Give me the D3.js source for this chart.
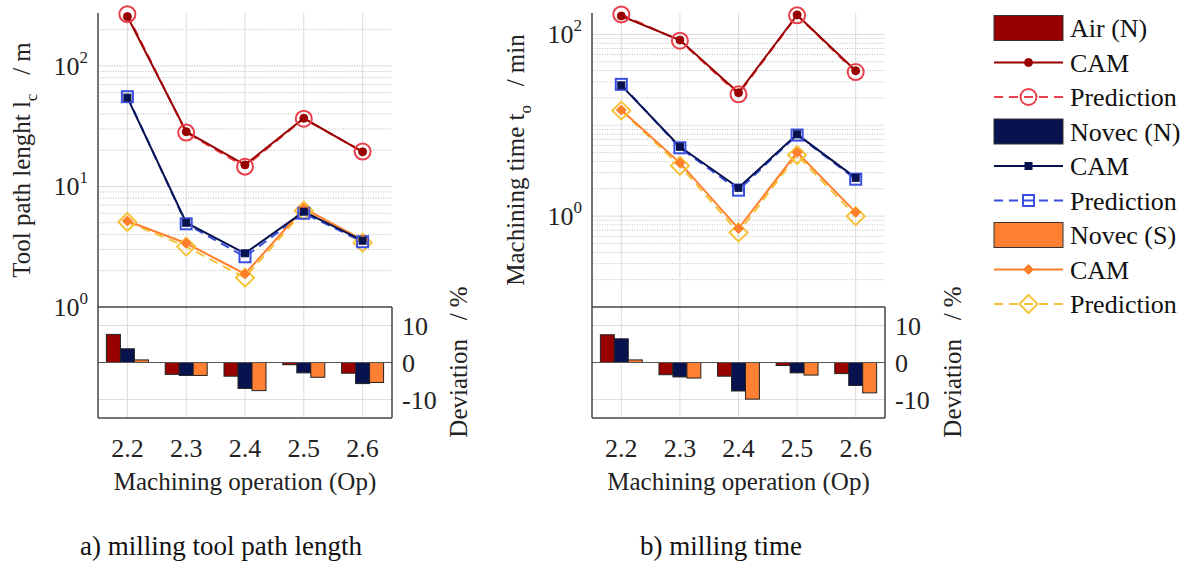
<!DOCTYPE html>
<html>
<head>
<meta charset="utf-8">
<script src="https://cdn.jsdelivr.net/npm/d3@7"></script>
<style>
  html, body, svg, text, tspan, div { font-family: 'Liberation Serif' !important; }
</style>
</head>
<body style="margin:0;background:#fff">
<svg id="chart" width="1184" height="563"></svg>
<script>
// machining operations (x values)
const ops = [2.2, 2.3, 2.4, 2.5, 2.6];
const opLabels = ["2.2", "2.3", "2.4", "2.5", "2.6"];

// a) tool path length / m
const lenAirCam   = [257, 28.5, 15.1, 36.8, 19.4];
const lenAirPred  = [269, 28.0, 14.6, 36.5, 19.5];
const lenNNCam    = [54.6, 5.0, 2.79, 6.18, 3.55];
const lenNNPred   = [55.6, 4.9, 2.61, 6.0, 3.48];
const lenNSCam    = [5.17, 3.38, 1.88, 6.59, 3.6];
const lenNSPred   = [5.07, 3.17, 1.75, 6.3, 3.42];
const lenDevAir   = [7.6, -3.2, -3.7, -0.6, -2.9];
const lenDevNN    = [3.7, -3.5, -7.0, -2.8, -5.7];
const lenDevNS    = [0.7, -3.5, -7.6, -4.0, -5.4];

// b) machining time / min
const timeAirCam  = [159.5, 86.8, 22.8, 163.6, 39.8];
const timeAirPred = [166, 85.3, 21.9, 162, 38.5];
const timeNNCam   = [27.5, 5.8, 2.05, 7.94, 2.64];
const timeNNPred  = [28.2, 5.65, 1.93, 7.8, 2.55];
const timeNSCam   = [14.7, 3.86, 0.73, 5.03, 1.1];
const timeNSPred  = [14.5, 3.58, 0.66, 4.7, 1.0];
const timeDevAir  = [7.5, -3.3, -3.7, -0.8, -3.0];
const timeDevNN   = [6.4, -3.9, -7.7, -2.8, -6.2];
const timeDevNS   = [0.7, -4.2, -9.9, -3.4, -8.2];

const devTicks = [10, 0, -10];

const col = {
    air: "#990000", airPred: "#e8404a",
    nn: "#07124f", nnPred: "#3a4fe0",
    ns: "#ff8033", nsLine: "#ff7f2a", nsPred: "#f5c33b"
};

const svg = d3.select("#chart").style("font-family", "'Liberation Serif'", "important");

function txt(g){
    return g.append("text").style("font-family", "'Liberation Serif'", "important").attr("fill", "#222");
}

function diamond(s){ return `M0,${-s}L${s},0L0,${s}L${-s},0Z`; }

function drawMarker(g, type, x, y, color, open){
    if(type === "circle"){
        g.append("circle").attr("cx", x).attr("cy", y).attr("r", open ? 8 : 4)
            .attr("fill", open ? "none" : color).attr("stroke", color).attr("stroke-width", open ? 2 : 1);
    } else if(type === "square"){
        const s = open ? 11 : 7;
        g.append("rect").attr("x", x - s/2).attr("y", y - s/2).attr("width", s).attr("height", s)
            .attr("fill", open ? "none" : color).attr("stroke", color).attr("stroke-width", open ? 2 : 1);
    } else {
        g.append("path").attr("transform", `translate(${x},${y})`).attr("d", diamond(open ? 9 : 5))
            .attr("fill", open ? "none" : color).attr("stroke", color).attr("stroke-width", open ? 2 : 1);
    }
}

function drawPanel(cfg){
    const g = svg.append("g");
    const x = d3.scaleLinear().domain([2.15, 2.65]).range([cfg.left, cfg.right]);
    const y = d3.scaleLog().domain(cfg.yDomain).range([cfg.mid, cfg.top]);
    const yd = d3.scaleLinear().domain([-15, 15]).range([cfg.bottom, cfg.mid]);

    // log grid: minor dotted, major solid
    const lo = Math.floor(Math.log10(cfg.yDomain[0])), hi = Math.ceil(Math.log10(cfg.yDomain[1]));
    for(let d = lo; d <= hi; d++){
        for(let k = 1; k <= 9; k++){
            const v = k * Math.pow(10, d);
            if(v <= cfg.yDomain[0] || v > cfg.yDomain[1]) continue;
            const major = cfg.yTicks.includes(v);
            g.append("line").attr("x1", cfg.left).attr("x2", cfg.right).attr("y1", y(v)).attr("y2", y(v))
                .attr("stroke", major ? "#dcdcdc" : "#bdbdbd").attr("stroke-width", 1)
                .attr("stroke-dasharray", major ? null : "1,1.5");
        }
    }
    // vertical grid, both plots
    ops.forEach(o => {
        g.append("line").attr("x1", x(o)).attr("x2", x(o)).attr("y1", cfg.top).attr("y2", cfg.bottom)
            .attr("stroke", "#dcdcdc").attr("stroke-width", 1);
    });
    // deviation grid
    [10, -10].forEach(v => {
        g.append("line").attr("x1", cfg.left).attr("x2", cfg.right).attr("y1", yd(v)).attr("y2", yd(v))
            .attr("stroke", "#dcdcdc").attr("stroke-width", 1);
    });

    // lines
    const line = d3.line().x((d, i) => x(ops[i])).y(d => y(d));
    const series = [
        {v: cfg.nsPred, c: col.nsPred, dash: "9,6", m: "diamond", open: true},
        {v: cfg.nnPred, c: col.nnPred, dash: "9,6", m: "square", open: true},
        {v: cfg.airPred, c: col.airPred, dash: "9,6", m: "circle", open: true},
        {v: cfg.nsCam, c: col.nsLine, dash: null, m: "diamond", open: false},
        {v: cfg.nnCam, c: col.nn, dash: null, m: "square", open: false},
        {v: cfg.airCam, c: col.air, dash: null, m: "circle", open: false}
    ];
    series.forEach(s => {
        g.append("path").attr("d", line(s.v)).attr("fill", "none").attr("stroke", s.c)
            .attr("stroke-width", 2).attr("stroke-dasharray", s.dash);
    });
    series.forEach(s => {
        s.v.forEach((v, i) => drawMarker(g, s.m, x(ops[i]), y(v), s.c, s.open));
    });

    // bars
    const bw = (x(2.3) - x(2.2)) * 0.238;
    const bars = [{v: cfg.devAir, c: col.air}, {v: cfg.devNN, c: col.nn}, {v: cfg.devNS, c: col.ns}];
    bars.forEach((b, j) => {
        b.v.forEach((v, i) => {
            g.append("rect").attr("x", x(ops[i]) + (j - 1.5) * bw).attr("width", bw)
                .attr("y", Math.min(yd(v), yd(0))).attr("height", Math.abs(yd(v) - yd(0)))
                .attr("fill", b.c).attr("stroke", "#222").attr("stroke-width", 1);
        });
    });
    g.append("line").attr("x1", cfg.left).attr("x2", cfg.right).attr("y1", yd(0)).attr("y2", yd(0))
        .attr("stroke", "#555").attr("stroke-width", 1);

    // axes lines
    const ax = "#444";
    g.append("line").attr("x1", cfg.left).attr("x2", cfg.left).attr("y1", cfg.top).attr("y2", cfg.bottom).attr("stroke", ax).attr("stroke-width", 1.5);
    g.append("line").attr("x1", cfg.left).attr("x2", cfg.right).attr("y1", cfg.mid).attr("y2", cfg.mid).attr("stroke", ax).attr("stroke-width", 1.5);
    g.append("line").attr("x1", cfg.left).attr("x2", cfg.right).attr("y1", cfg.bottom).attr("y2", cfg.bottom).attr("stroke", ax).attr("stroke-width", 1.5);
    g.append("line").attr("x1", cfg.right).attr("x2", cfg.right).attr("y1", cfg.mid).attr("y2", cfg.bottom).attr("stroke", ax).attr("stroke-width", 1.5);

    // log tick labels
    cfg.yTicks.forEach(v => {
        const t = txt(g).attr("x", cfg.left - 10).attr("y", y(v) + 9)
            .attr("text-anchor", "end").attr("font-size", 26);
        t.append("tspan").text("10");
        t.append("tspan").attr("dy", -12).attr("font-size", 17).text(Math.round(Math.log10(v)));
    });
    // deviation ticks (right side)
    devTicks.forEach(v => {
        txt(g).attr("x", cfg.right + 10).attr("y", yd(v) + 9)
            .attr("font-size", 26).text(v);
    });
    // x tick labels
    ops.forEach((o, i) => {
        txt(g).attr("x", x(o)).attr("y", 457).attr("text-anchor", "middle")
            .attr("font-size", 26).text(opLabels[i]);
    });
    txt(g).attr("x", (cfg.left + cfg.right) / 2).attr("y", 490).attr("text-anchor", "middle")
        .attr("font-size", 25).text("Machining operation (Op)");

    // y label
    const yl = txt(g).attr("transform", `translate(${cfg.yLabelX},160) rotate(-90)`)
        .attr("text-anchor", "middle").attr("font-size", 25);
    yl.append("tspan").text(cfg.yLabel[0]);
    yl.append("tspan").attr("dy", 7).attr("font-size", 17).text(cfg.yLabel[1]);
    yl.append("tspan").attr("dy", -7).text(cfg.yLabel[2]);

    txt(g).attr("transform", `translate(${cfg.devLabelX},362) rotate(-90)`)
        .attr("text-anchor", "middle").attr("font-size", 25)
        .text("Deviation\u00a0\u00a0\u00a0/ %");

    txt(g).attr("x", cfg.captionX).attr("y", 555).attr("font-size", 27).attr("fill", "#111")
        .text(cfg.caption);
}

drawPanel({
    left: 98, right: 392, top: 13, mid: 307, bottom: 418,
    yDomain: [1, 275], yTicks: [1, 10, 100],
    airCam: lenAirCam, airPred: lenAirPred, nnCam: lenNNCam, nnPred: lenNNPred, nsCam: lenNSCam, nsPred: lenNSPred,
    devAir: lenDevAir, devNN: lenDevNN, devNS: lenDevNS,
    yLabel: ["Tool path lenght l", "c", "\u00a0\u00a0\u00a0/ m"], yLabelX: 30, devLabelX: 467,
    caption: "a) milling tool path length", captionX: 80
});
drawPanel({
    left: 592, right: 885, top: 13, mid: 307, bottom: 418,
    yDomain: [0.1, 172], yTicks: [1, 100],
    airCam: timeAirCam, airPred: timeAirPred, nnCam: timeNNCam, nnPred: timeNNPred, nsCam: timeNSCam, nsPred: timeNSPred,
    devAir: timeDevAir, devNN: timeDevNN, devNS: timeDevNS,
    yLabel: ["Machining time t", "o", "\u00a0\u00a0\u00a0/ min"], yLabelX: 524, devLabelX: 961,
    caption: "b) milling time", captionX: 640
});

// legend
const legendItems = [
    {kind: "patch", c: col.air, label: "Air (N)"},
    {kind: "cam", c: col.air, m: "circle", label: "CAM"},
    {kind: "pred", c: col.airPred, m: "circle", label: "Prediction"},
    {kind: "patch", c: col.nn, label: "Novec (N)"},
    {kind: "cam", c: col.nn, m: "square", label: "CAM"},
    {kind: "pred", c: col.nnPred, m: "square", label: "Prediction"},
    {kind: "patch", c: col.ns, label: "Novec (S)"},
    {kind: "cam", c: col.nsLine, m: "diamond", label: "CAM"},
    {kind: "pred", c: col.nsPred, m: "diamond", label: "Prediction"}
];
const leg = svg.append("g");
const lx0 = 994, lx1 = 1063;
legendItems.forEach((it, i) => {
    const cy = 28 + i * 34.5;
    if(it.kind === "patch"){
        leg.append("rect").attr("x", lx0).attr("y", cy - 12.5).attr("width", lx1 - lx0).attr("height", 25)
            .attr("fill", it.c).attr("stroke", "#333").attr("stroke-width", 1);
    } else {
        leg.append("line").attr("x1", lx0).attr("x2", lx1).attr("y1", cy).attr("y2", cy)
            .attr("stroke", it.c).attr("stroke-width", 2)
            .attr("stroke-dasharray", it.kind === "pred" ? "9,6" : null);
        drawMarker(leg, it.m, (lx0 + lx1) / 2, cy, it.c, it.kind === "pred");
    }
    txt(leg).attr("x", 1070).attr("y", cy + 9).attr("font-size", 26).attr("fill", "#111").text(it.label);
});
</script>
</body>
</html>
